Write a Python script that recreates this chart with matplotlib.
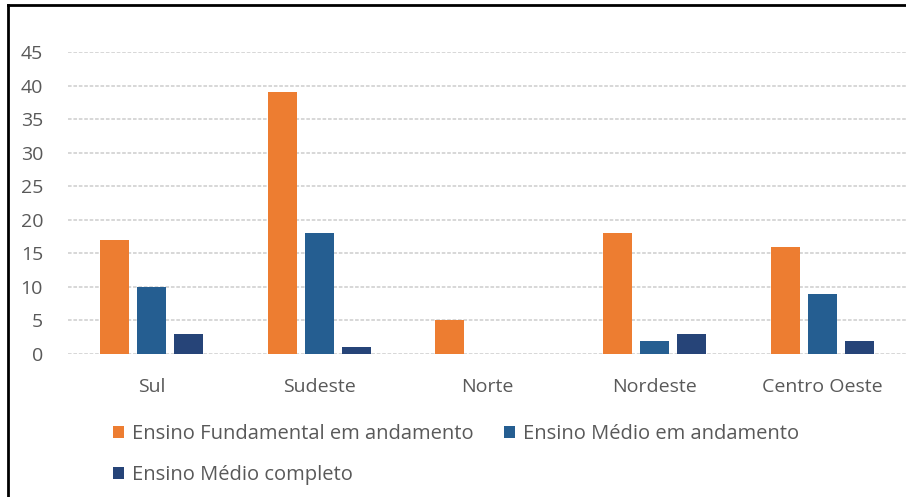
import numpy as np
import matplotlib.pyplot as plt
from matplotlib.lines import Line2D

plt.rcParams['font.family'] = ['Open Sans', 'DejaVu Sans']

# dados
regioes = ["Sul", "Sudeste", "Norte", "Nordeste", "Centro Oeste"]
fundamental_andamento = [17, 39, 5, 18, 16]
medio_andamento = [10, 18, 0, 2, 9]
medio_completo = [3, 1, 0, 3, 2]

series = [
    ("Ensino Fundamental em andamento", fundamental_andamento, "#ED7D31"),
    ("Ensino Médio em andamento", medio_andamento, "#255E91"),
    ("Ensino Médio completo", medio_completo, "#264478"),
]

fig = plt.figure(figsize=(9.06, 4.97), dpi=100)
ax = fig.add_axes([68 / 906, 1 - 354 / 497, (906 - 68) / 906, (354 - 52) / 497])

x = np.arange(len(regioes))
passo = 0.221
largura = 0.173
barras = []
for i, (nome, vals, cor) in enumerate(series):
    b = ax.bar(x + (i - 1) * passo, vals, width=largura, color=cor, label=nome, zorder=3)
    barras.append(b)

ax.set_xlim(-0.5, len(regioes) - 0.5)
ax.set_ylim(0, 45)
ax.set_yticks(range(0, 50, 5))
ax.set_xticks(x)
ax.set_xticklabels(regioes)
ax.tick_params(axis='both', length=0, labelsize=14, labelcolor="#595959")
ax.tick_params(axis='y', pad=18)
ax.tick_params(axis='x', pad=17)
for s in ax.spines.values():
    s.set_visible(False)
ax.yaxis.grid(True, color="#d4d4d4", linewidth=1.3, linestyle=(0, (2, 1)), zorder=0)

# legenda (ordem para preencher por linhas)
ordem = [0, 2, 1]
fig.legend([barras[i] for i in ordem], [series[i][0] for i in ordem],
           loc='upper left', bbox_to_anchor=(113 / 906, 1 - 424 / 497), ncol=2,
           frameon=False, fontsize=14.5, labelcolor="#595959",
           handlelength=0.55, handleheight=0.55, handletextpad=0.4,
           columnspacing=1.5, labelspacing=1.05, borderaxespad=0, borderpad=0)

# moldura
fig.add_artist(Line2D([8 / 906, 8 / 906], [0, 1 - 5 / 497], color="black", lw=2,
                      transform=fig.transFigure))
fig.add_artist(Line2D([8 / 906, 1], [1 - 5 / 497, 1 - 5 / 497], color="black", lw=2,
                      transform=fig.transFigure))

plt.savefig("out.png", dpi=100)
